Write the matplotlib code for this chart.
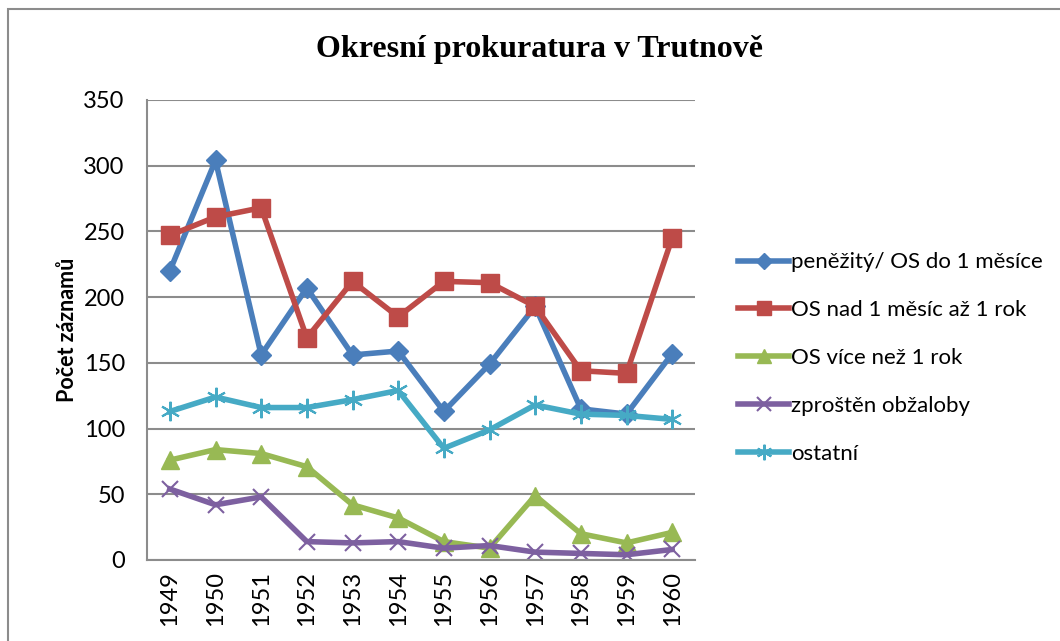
import matplotlib
matplotlib.use("Agg")
from matplotlib import pyplot as plt
from matplotlib.patches import Rectangle

# DATA
roky = ["1949", "1950", "1951", "1952", "1953", "1954",
        "1955", "1956", "1957", "1958", "1959", "1960"]
penezity = [220, 304, 156, 207, 156, 159, 113, 149, 193, 115, 111, 157]
os_nad_mesic = [247, 261, 268, 169, 212, 185, 212, 211, 193, 144, 142, 245]
os_vice_rok = [76, 84, 81, 71, 42, 32, 14, 9, 49, 20, 13, 21]
zprosten = [54, 42, 48, 14, 13, 14, 9, 11, 6, 5, 4, 8]
ostatni = [113, 124, 116, 116, 122, 129, 85, 99, 118, 111, 110, 107]

nazvy = ["peněžitý/ OS do 1 měsíce", "OS nad 1 měsíc až 1 rok",
         "OS více než 1 rok", "zproštěn obžaloby", "ostatní"]

W, H = 1060, 641
fig = plt.figure(figsize=(W / 100, H / 100), dpi=100)
fig.patch.set_facecolor("white")

# ramecek okolo grafu
fig.patches.append(Rectangle((8 / W, -0.1), 1.2, 1 - 9 / H + 0.1,
                             transform=fig.transFigure, fill=False,
                             edgecolor="#8c8c8c", linewidth=1.5))

ax = fig.add_axes([147 / W, 1 - 560 / H, (695 - 147) / W, (560 - 100) / H])

x = list(range(len(roky)))
lw = 4
ax.plot(x, penezity, color="#4A7EBB", lw=lw, marker="D", ms=10, label=nazvy[0])
ax.plot(x, os_nad_mesic, color="#BE4B48", lw=lw, marker="s", ms=13, label=nazvy[1])
ax.plot(x, os_vice_rok, color="#98B954", lw=lw, marker="^", ms=13, label=nazvy[2])
ax.plot(x, zprosten, color="#7D60A0", lw=lw, marker="x", ms=12, mew=1.5, label=nazvy[3])
ax.plot(x, ostatni, color="#46AAC5", lw=lw, marker=(6, 2, 0), ms=14, mew=1.5, label=nazvy[4])

ax.set_xlim(-0.5, len(roky) - 0.5)
ax.set_ylim(0, 350)
ax.set_yticks(range(0, 351, 50))
ax.set_xticks(x)
ax.set_xticklabels(roky, rotation=90)
ax.tick_params(axis="both", length=0, labelsize=17, pad=8)
for lab in ax.get_xticklabels() + ax.get_yticklabels():
    lab.set_family("Lato")
ax.yaxis.set_tick_params(pad=16)

ax.grid(axis="y", color="#8c8c8c", lw=1.5)
ax.set_axisbelow(True)
for s in ["top", "right"]:
    ax.spines[s].set_visible(False)
for s in ["left", "bottom"]:
    ax.spines[s].set_color("#8c8c8c")
    ax.spines[s].set_linewidth(1.5)

ax.set_ylabel("Počet záznamů", fontsize=15.5, fontweight="bold", family="Lato", labelpad=4)

fig.text(540 / W, 1 - 50 / H, "Okresní prokuratura v Trutnově", ha="center", va="center",
         fontsize=23, fontweight="bold", family="Liberation Serif")

ax.legend(loc="center left", bbox_to_anchor=(718 / W, 1 - 358 / H),
          bbox_transform=fig.transFigure, frameon=False,
          prop={"family": "Lato", "size": 16}, handlelength=2.3,
          handletextpad=0.1, labelspacing=1.25, markerscale=0.8)

fig.savefig("out.png", dpi=100)
